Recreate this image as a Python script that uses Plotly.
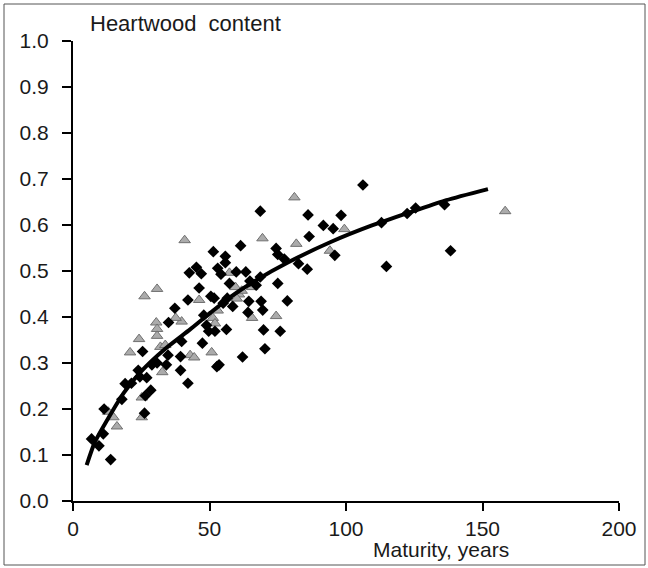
import plotly.graph_objects as go

# Black diamonds (maturity in years, heartwood content)
diamond_x = [6.8, 9.5, 11.4, 11.1, 13.8, 17.9, 19.1, 21.4, 23.9, 25.5, 24.5, 27.0, 26.2, 26.5, 28.5,
             28.9, 30.8, 34.2, 34.8, 35.0, 37.3, 39.4, 39.4, 39.8, 42.1, 42.1, 42.6, 45.2, 46.2,
             47.0, 47.4, 47.9, 48.9, 49.7, 50.5, 51.4, 51.7, 52.0, 52.7, 53.5, 53.0, 54.2, 55.8,
             55.8, 56.2, 56.5, 57.3, 58.5, 59.8, 61.4, 62.1, 63.3, 64.1, 64.4, 64.8, 67.1, 68.6,
             68.6, 68.9, 69.5, 69.8, 70.3, 74.4, 75.0, 75.0, 75.9, 77.4, 78.5, 82.6, 85.8, 86.1,
             86.5, 91.7, 95.3, 95.9, 98.2, 106.2, 113.0, 114.8, 122.4, 125.5, 136.1, 138.3, 55.0]
diamond_y = [0.135, 0.120, 0.200, 0.146, 0.090, 0.221, 0.255, 0.256, 0.284, 0.325, 0.270, 0.268, 0.191,
             0.229, 0.241, 0.296, 0.300, 0.296, 0.317, 0.388, 0.419, 0.284, 0.314, 0.347, 0.256,
             0.437, 0.496, 0.508, 0.463, 0.494, 0.343, 0.404, 0.382, 0.369, 0.445, 0.542, 0.441,
             0.369, 0.292, 0.296, 0.506, 0.493, 0.532, 0.518, 0.373, 0.441, 0.473, 0.423, 0.498,
             0.555, 0.313, 0.498, 0.410, 0.434, 0.478, 0.469, 0.630, 0.487, 0.434, 0.415, 0.372,
             0.331, 0.549, 0.536, 0.473, 0.369, 0.526, 0.435, 0.516, 0.504, 0.622, 0.575, 0.599,
             0.592, 0.534, 0.621, 0.687, 0.605, 0.510, 0.625, 0.637, 0.644, 0.544, 0.430]

# Grey triangles
triangle_x = [12.9, 14.8, 16.1, 20.9, 24.2, 25.2, 25.2, 26.2, 30.8, 30.5, 30.8, 30.8, 32.0, 32.7,
              33.8, 40.9, 39.8, 37.6, 42.9, 44.4, 46.2, 50.8, 51.2, 52.0, 53.0, 57.3, 59.5, 60.8,
              61.8, 65.6, 65.6, 69.4, 74.4, 81.1, 81.8, 94.1, 99.4, 158.3, 60.0]
triangle_y = [0.194, 0.182, 0.162, 0.323, 0.352, 0.225, 0.182, 0.445, 0.461, 0.388, 0.374, 0.359,
              0.335, 0.280, 0.339, 0.567, 0.390, 0.398, 0.317, 0.312, 0.437, 0.323, 0.398, 0.386,
              0.414, 0.496, 0.465, 0.449, 0.457, 0.465, 0.398, 0.571, 0.402, 0.660, 0.559, 0.544,
              0.591, 0.630, 0.440]

# Fitted curve, points
curve_x = [5, 8, 14.1, 18.6, 24.7, 33.8, 42.9, 50.5, 58, 67.1, 79.2, 94.4, 109.5, 124.7, 136.8, 152]
curve_y = [0.078, 0.128, 0.192, 0.235, 0.280, 0.331, 0.373, 0.410, 0.445, 0.480, 0.520, 0.563,
           0.599, 0.630, 0.654, 0.678]

x_ticks = [0, 50, 100, 150, 200]
y_ticks = [0.0, 0.1, 0.2, 0.3, 0.4, 0.5, 0.6, 0.7, 0.8, 0.9, 1.0]

FONT = "Liberation Sans, Arial, sans-serif"

fig = go.Figure()
fig.add_trace(go.Scatter(
    x=triangle_x, y=triangle_y, mode="markers",
    marker=dict(symbol="triangle-up", size=10, color="#ababab",
                line=dict(color="#707070", width=1)),
    showlegend=False, hoverinfo="skip"))
fig.add_trace(go.Scatter(
    x=diamond_x, y=diamond_y, mode="markers",
    marker=dict(symbol="diamond", size=9, color="black", line=dict(width=0)),
    showlegend=False, hoverinfo="skip"))
fig.add_trace(go.Scatter(
    x=curve_x, y=curve_y, mode="lines",
    line=dict(color="black", width=4, shape="spline", smoothing=0.6),
    showlegend=False, hoverinfo="skip"))

fig.update_layout(
    width=648, height=568,
    margin=dict(l=73, r=29, t=41, b=67),
    paper_bgcolor="white", plot_bgcolor="white",
    font=dict(family=FONT, size=21, color="#1a1a1a"),
    xaxis=dict(range=[0, 200], tickvals=x_ticks, ticktext=[str(v) for v in x_ticks],
               showgrid=False, zeroline=False, showline=True, linecolor="black", linewidth=2,
               ticks="outside", ticklen=8, tickwidth=2, tickcolor="black",
               tickfont=dict(family=FONT, size=21, color="#1a1a1a"), fixedrange=True),
    yaxis=dict(range=[0, 1.0], tickvals=y_ticks, ticktext=[f"{v:.1f}" for v in y_ticks],
               showgrid=False, zeroline=False, showline=True, linecolor="black", linewidth=2,
               ticks="outside", ticklen=9, tickwidth=2, tickcolor="black",
               ticklabelstandoff=9,
               tickfont=dict(family=FONT, size=21, color="#1a1a1a"), fixedrange=True),
    annotations=[
        dict(text="Heartwood&nbsp;&nbsp;content", xref="paper", yref="paper",
             x=(88 - 73) / 546, y=1 + (41 - 23) / 460, xanchor="left", yanchor="middle",
             showarrow=False, font=dict(family=FONT, size=22, color="#1a1a1a")),
        dict(text="Maturity, years", xref="paper", yref="paper",
             x=(441 - 73) / 546, y=-(549 - 501) / 460, xanchor="center", yanchor="middle",
             showarrow=False, font=dict(family=FONT, size=21, color="#1a1a1a")),
    ],
    shapes=[dict(type="rect", xref="paper", yref="paper",
                 x0=(4 - 73) / 546, x1=(645 - 73) / 546,
                 y0=-(565 - 501) / 460, y1=1 + (41 - 4) / 460,
                 line=dict(color="#555555", width=1), layer="below")],
)

fig.write_html("out.html")
